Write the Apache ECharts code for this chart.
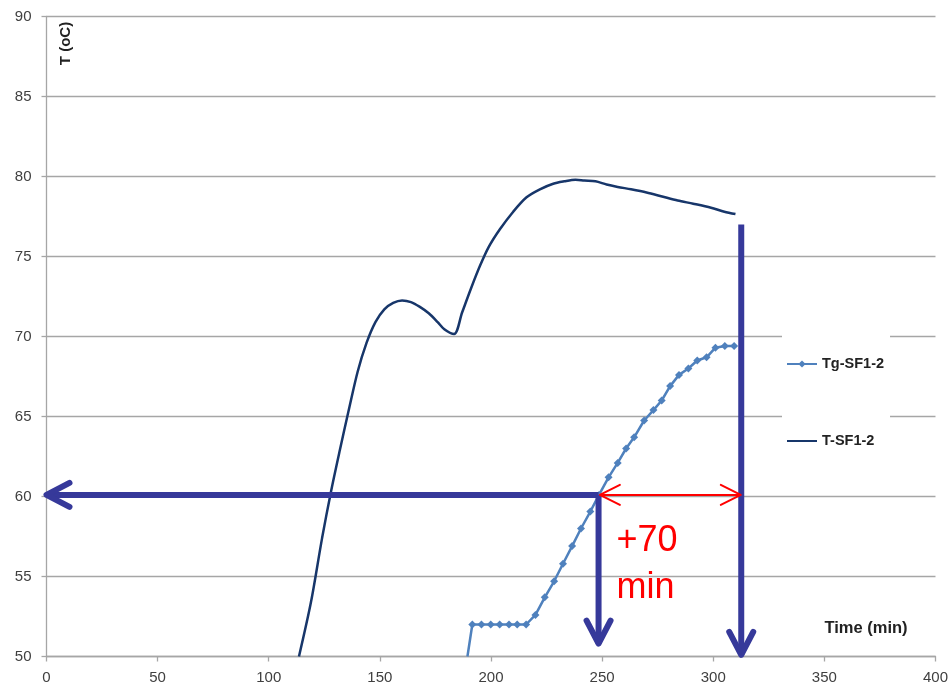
<!DOCTYPE html>
<html><head><meta charset="utf-8">
<script src="https://cdn.jsdelivr.net/npm/echarts@6/dist/echarts.min.js"></script>
<style>html,body{margin:0;padding:0;background:#fff}#c{width:951px;height:687px}</style>
</head><body><div id="c"></div>
<script>
// ---- data ----
const tTime = [113.6,119,124,128,132,136,140,144,148,152,156,160,164,168,172,176,179,183.4,187,191,195,199,204,210,216,222,228,233,238,242,247,252,257,263,270,277,284,291,299,305,310];
const tTemp = [50,53.4,57.4,60.3,62.9,65.4,67.8,69.6,70.9,71.7,72.1,72.25,72.15,71.85,71.45,70.9,70.45,70.15,71.5,73.0,74.4,75.6,76.7,77.8,78.7,79.2,79.55,79.7,79.8,79.75,79.7,79.5,79.35,79.2,79.0,78.75,78.5,78.3,78.05,77.8,77.65];
const tgTime = [189.4,191.6,195.7,199.9,203.9,208.1,211.8,215.8,220.0,224.2,228.4,232.4,236.5,240.5,244.7,248.6,252.9,257.0,260.8,264.4,268.9,273.1,276.8,280.6,284.6,288.8,292.8,297.0,301.0,305.2,309.4];
const tgTemp = [50,52.0,52.0,52.0,52.0,52.0,52.0,52.0,52.6,53.7,54.7,55.8,56.9,58.0,59.06,60.1,61.2,62.1,63.0,63.7,64.75,65.4,66.0,66.9,67.6,68.0,68.5,68.7,69.3,69.4,69.4];
const seriesNames = ['Tg-SF1-2','T-SF1-2'];
const xTitle = 'Time (min)';
const yTitle = 'T (oC)';
const deltaLabel = ['+70','min'];
// annotation positions in data coordinates
const arrowH = [[248.4,60.1],[0,60.1]];
const arrowV1 = [[248.4,60.1],[248.4,50.8]];
const arrowV2 = [[312.6,77.0],[312.6,50.1]];
const redArrow = [[249.0,60.1],[312.4,60.1]];
const deltaPos = [[256.5,57.2],[256.5,54.3]];

const chart = echarts.init(document.getElementById('c'));
const gridCol = '#A6A6A6';
const lblFont = 'Liberation Sans, Arial, sans-serif';
const tgColor = '#4F81BD', tColor = '#17366A';
chart.setOption({
  animation:false,
  backgroundColor:'#fff',
  grid:{left:46.5,right:13.3,top:16.5,bottom:30.5},
  xAxis:{type:'value',min:0,max:400,interval:50,
    axisLine:{show:true,lineStyle:{color:gridCol,width:1.3}},
    axisTick:{show:true,length:5,lineStyle:{color:gridCol,width:1.3}},
    axisLabel:{fontSize:15,color:'#404040',margin:14,fontFamily:lblFont},
    splitLine:{show:false}},
  yAxis:{type:'value',min:50,max:90,interval:5,
    axisLine:{show:true,lineStyle:{color:gridCol,width:1.3}},
    axisTick:{show:true,length:5,lineStyle:{color:gridCol,width:1.3}},
    axisLabel:{fontSize:15,color:'#404040',margin:15,fontFamily:lblFont},
    splitLine:{show:true,lineStyle:{color:gridCol,width:1.3}}},
  legend:{orient:'vertical',left:782,top:326.5,itemGap:62,itemWidth:30,itemHeight:9,
    padding:[30,6,27,4],backgroundColor:'#fff',
    textStyle:{fontSize:14.5,fontWeight:'bold',color:'#222',fontFamily:lblFont},
    data:[{name:seriesNames[0]},{name:seriesNames[1],itemStyle:{opacity:0}}]},
  series:[
    {name:seriesNames[0],type:'line',smooth:false,
     symbol:'diamond',symbolSize:8,
     itemStyle:{color:tgColor},lineStyle:{color:tgColor,width:2.5},
     data:tgTime.map((t,i)=> i===0 ? {value:[t,tgTemp[i]],symbol:'none'} : [t,tgTemp[i]])},
    {name:seriesNames[1],type:'line',smooth:0.3,symbol:'none',
     itemStyle:{color:tColor},lineStyle:{color:tColor,width:2.5},
     data:tTime.map((t,i)=>[t,tTemp[i]])}
  ]
});

function px(p){return chart.convertToPixel({gridIndex:0},p);}
function chevron(a,b,L,W){
  const pa=px(a), pb=px(b);
  const dx=pb[0]-pa[0], dy=pb[1]-pa[1], len=Math.hypot(dx,dy);
  const ux=dx/len, uy=dy/len, nx=-uy, ny=ux;
  return [[pb[0]-ux*L+nx*W,pb[1]-uy*L+ny*W],pb,[pb[0]-ux*L-nx*W,pb[1]-uy*L-ny*W]];
}
const blue='#36399A', red='#FF0000';
function lineEl(a,b,color,w){
  return {type:'polyline',z:100,shape:{points:[px(a),px(b)]},style:{stroke:color,lineWidth:w,fill:null,lineCap:'butt'}};
}
function headEl(a,b,color,w,L,W){
  return {type:'polyline',z:100,shape:{points:chevron(a,b,L,W)},style:{stroke:color,lineWidth:w,fill:null,lineCap:'round',lineJoin:'round'}};
}
const graphics=[
  lineEl(arrowH[0],arrowH[1],blue,6), headEl(arrowH[0],arrowH[1],blue,6,23,12),
  lineEl(arrowV1[0],arrowV1[1],blue,6), headEl(arrowV1[0],arrowV1[1],blue,6,23,12),
  lineEl(arrowV2[0],arrowV2[1],blue,6), headEl(arrowV2[0],arrowV2[1],blue,6,23,12),
  lineEl(redArrow[0],redArrow[1],red,2), headEl(redArrow[0],redArrow[1],red,2,20,10), headEl(redArrow[1],redArrow[0],red,2,20,10)
];
deltaLabel.forEach((s,i)=>{
  const p=px(deltaPos[i]);
  graphics.push({type:'text',z:101,x:p[0],y:p[1],style:{text:s,fill:red,font:'36px Liberation Sans, Arial, sans-serif',align:'left',verticalAlign:'middle'}});
});
graphics.push({type:'text',z:101,x:866,y:628,style:{text:xTitle,fill:'#222',font:'bold 16.5px Liberation Sans, Arial, sans-serif',align:'center',verticalAlign:'middle'}});
graphics.push({type:'text',z:101,x:66,y:43.5,rotation:Math.PI/2,style:{text:yTitle,fill:'#222',font:'bold 15px Liberation Sans, Arial, sans-serif',align:'center',verticalAlign:'middle'}});
chart.setOption({graphic:graphics});
</script>
</body></html>
